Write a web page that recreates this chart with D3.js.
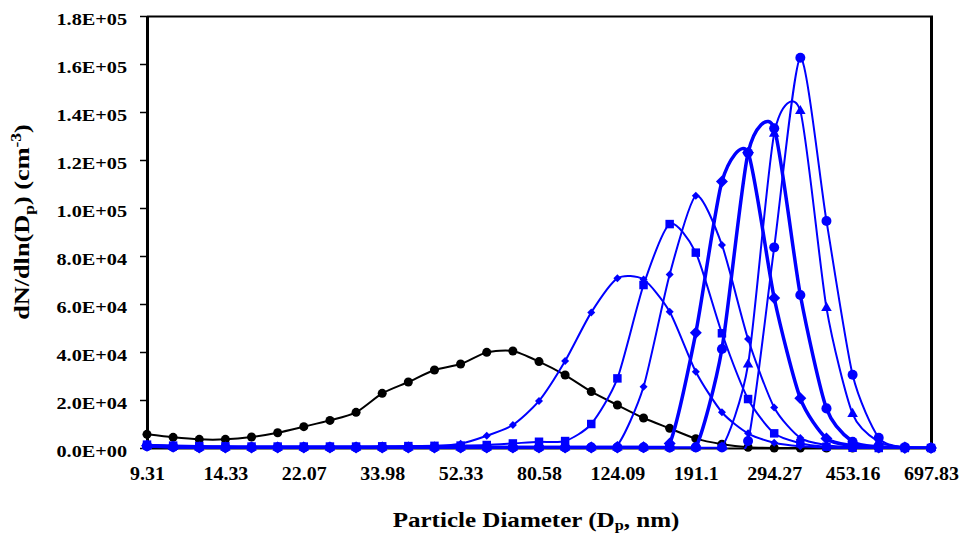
<!DOCTYPE html>
<html>
<head>
<meta charset="utf-8">
<title>Particle size distribution</title>
<style>
body {
	margin: 0;
	background-color: #fff;
}
text {
	font-family: "Liberation Serif", "Times New Roman", serif;
	font-weight: bold;
	fill: #000;
}
</style>
</head>
<body>
<svg></svg>
<script src="https://cdn.jsdelivr.net/npm/d3@7"></script>
<script>

/***********
Data
************/

// bin mid diameters (nm), one point per bin
var diameters = ["9.31","10.75","12.41","14.33","16.55","19.11","22.07","25.49","29.43","33.98",
	"39.24","45.31","52.33","60.43","69.78","80.58","93.05","107.45","124.09","143.29",
	"165.47","191.1","220.67","254.82","294.27","339.81","392.4","453.16","523.29","604.28","697.83"];

// labels shown under the axis (every 3rd bin)
var xTickLabels = ["9.31","14.33","22.07","33.98","52.33","80.58","124.09","191.1","294.27","453.16","697.83"];

var yTicks = [0, 20000, 40000, 60000, 80000, 100000, 120000, 140000, 160000, 180000];

// dN/dlnDp, cm-3
var seriesBlack = [5700,4450,3600,3600,4580,6380,8900,11500,14850,22780,
	27500,32500,35000,39850,40400,36000,30400,23500,17900,12500,
	8200,3900,1600,300,0,0,0,0,0,0,0];
var seriesA = [1200,800,600,500,500,500,500,500,500,500,
	500,800,1800,5100,9600,19600,36250,56500,70700,70200,
	56800,31800,14900,6100,2200,700,200,0,0,0,0];
var seriesB = [1400,1000,800,700,600,600,600,600,600,700,
	800,900,1000,1250,1900,2600,2900,10000,29000,67900,
	93300,81400,47800,20400,6100,2000,500,100,0,0,0];
var seriesC = [1000,600,300,300,300,300,300,300,300,300,
	300,300,300,300,300,300,300,300,1200,25500,
	72300,105100,84600,45400,16900,4200,1200,300,0,0,0];
var seriesD = [900,500,200,200,200,200,200,200,200,200,
	200,200,200,200,200,200,200,200,200,300,
	1900,48000,111000,123000,62500,20700,4000,1000,200,0,0];
var seriesE = [800,400,200,200,200,200,200,200,200,200,
	200,200,200,200,200,200,200,200,200,200,
	200,300,41250,123000,133200,63750,16500,2600,500,100,0];
var seriesF = [800,400,200,200,200,200,200,200,200,200,
	200,200,200,200,200,200,200,200,200,200,
	200,200,300,34800,131000,140400,58400,14200,2500,300,0];
var seriesG = [900,500,200,200,200,200,200,200,200,200,
	200,200,200,200,200,200,200,200,200,200,
	200,200,200,2900,83600,162600,94600,30500,4300,300,0];

/***********
Styles
************/
var blue = "#0000ff";
var series = [
	{values: seriesBlack, color: "#000", width: 2,   marker: "circle",  size: 64},
	{values: seriesA,     color: blue,   width: 2,   marker: "diamond", size: 32},
	{values: seriesB,     color: blue,   width: 2,   marker: "square",  size: 72},
	{values: seriesC,     color: blue,   width: 2,   marker: "diamond", size: 32},
	{values: seriesD,     color: blue,   width: 3.5, marker: "diamond", size: 72},
	{values: seriesE,     color: blue,   width: 3.5, marker: "circle",  size: 80},
	{values: seriesF,     color: blue,   width: 2,   marker: "triangle",size: 48},
	{values: seriesG,     color: blue,   width: 2,   marker: "circle",  size: 78}
];

var w = 963, h = 533;
var plotLeft = 147, plotRight = 931.5, plotTop = 16, plotBottom = 448;

var svg = d3.select("svg")
	.attr("width", w)
	.attr("height", h);

var x = d3.scalePoint()
	.domain(d3.range(diameters.length))
	.range([plotLeft, plotRight - 0.5]);

var y = d3.scaleLinear()
	.domain([0, 180000])
	.range([plotBottom, plotTop]);

// 1.8E+05 style labels
function sci(d) {
	if (d === 0) return "0.0E+00";
	var e = Math.floor(Math.log10(d));
	var m = d / Math.pow(10, e);
	return m.toFixed(1) + "E+" + (e < 10 ? "0" : "") + e;
}

/***********
Axes + frame
************/
var yAxis = svg.append("g")
	.attr("transform", "translate(" + plotLeft + ",0)")
	.call(d3.axisLeft(y).tickValues(yTicks).tickFormat(sci).tickSize(7).tickSizeOuter(0));
yAxis.select(".domain").attr("stroke", "#000").attr("stroke-width", 3);
yAxis.selectAll(".tick line").attr("stroke", "#000").attr("stroke-width", 1.5);
yAxis.selectAll(".tick text")
	.attr("x", 0).attr("dy", null)
	.attr("font-size", 17)
	.attr("transform", "translate(-20,8) scale(1.19,1)");

var xAxis = svg.append("g")
	.attr("transform", "translate(0," + plotBottom + ")")
	.call(d3.axisBottom(x)
		.tickValues(x.domain().filter(function(i) { return xTickLabels.indexOf(diameters[i]) >= 0; }))
		.tickFormat(function(i) { return diameters[i]; })
		.tickSize(0).tickSizeOuter(0));
xAxis.select(".domain").attr("stroke", "#000").attr("stroke-width", 2);
xAxis.selectAll(".tick text")
	.attr("y", 0).attr("dy", null)
	.attr("font-size", 19)
	.attr("transform", "translate(0,32) scale(1.05,1)");

// top and right border of plot area
svg.append("line")
	.attr("x1", plotLeft).attr("x2", plotRight + 1.5)
	.attr("y1", plotTop + 0.5).attr("y2", plotTop + 0.5)
	.attr("stroke", "#000").attr("stroke-width", 2);
svg.append("line")
	.attr("x1", plotRight).attr("x2", plotRight)
	.attr("y1", plotTop).attr("y2", plotBottom)
	.attr("stroke", "#000").attr("stroke-width", 3);

// axis titles
var xt = svg.append("text")
	.attr("text-anchor", "middle")
	.attr("font-size", 21.6)
	.attr("transform", "translate(536,526.5) scale(1.16,1)");
xt.append("tspan").text("Particle Diameter (D");
xt.append("tspan").attr("font-size", 14).attr("dy", 3).text("p");
xt.append("tspan").attr("dy", -3).text(", nm)");

var yt = svg.append("text")
	.attr("text-anchor", "middle")
	.attr("font-size", 21)
	.attr("transform", "translate(29,222) rotate(-90) scale(1.25,1)");
yt.append("tspan").text("dN/dln(D");
yt.append("tspan").attr("font-size", 14).attr("dy", 5).text("p");
yt.append("tspan").attr("dy", -5).text(") (cm");
yt.append("tspan").attr("font-size", 14).attr("dy", -8).text("-3");
yt.append("tspan").attr("dy", 8).text(")");

/***********
Series
************/
svg.append("clipPath").attr("id", "plot")
	.append("rect")
	.attr("x", plotLeft).attr("y", plotTop)
	.attr("width", plotRight - plotLeft).attr("height", plotBottom - plotTop + 1);

// smoothed like the spreadsheet lines, a little less overshoot than catmull-rom
var line = d3.line()
	.x(function(d, i) { return x(i); })
	.y(function(d) { return y(d); })
	.curve(d3.curveCardinal.tension(0.3));

var symbols = {
	circle: d3.symbolCircle,
	square: d3.symbolSquare,
	diamond: d3.symbolSquare, // rotated below
	triangle: d3.symbolTriangle
};

var gs = svg.selectAll(".series")
	.data(series)
	.enter()
		.append("g")
		.attr("class", "series");

gs.append("path")
	.attr("clip-path", "url(#plot)")
	.attr("fill", "none")
	.attr("stroke", function(s) { return s.color; })
	.attr("stroke-width", function(s) { return s.width; })
	.attr("d", function(s) { return line(s.values); });

gs.each(function(s) {
	d3.select(this).selectAll(".mk")
		.data(s.values)
		.enter()
			.append("path")
			.attr("class", "mk")
			.attr("fill", s.color)
			.attr("d", d3.symbol().type(symbols[s.marker]).size(s.size))
			.attr("transform", function(d, i) {
				return "translate(" + x(i) + "," + y(d) + ")" + (s.marker == "diamond" ? " rotate(45)" : "");
			});
});

</script>
</body>
</html>
